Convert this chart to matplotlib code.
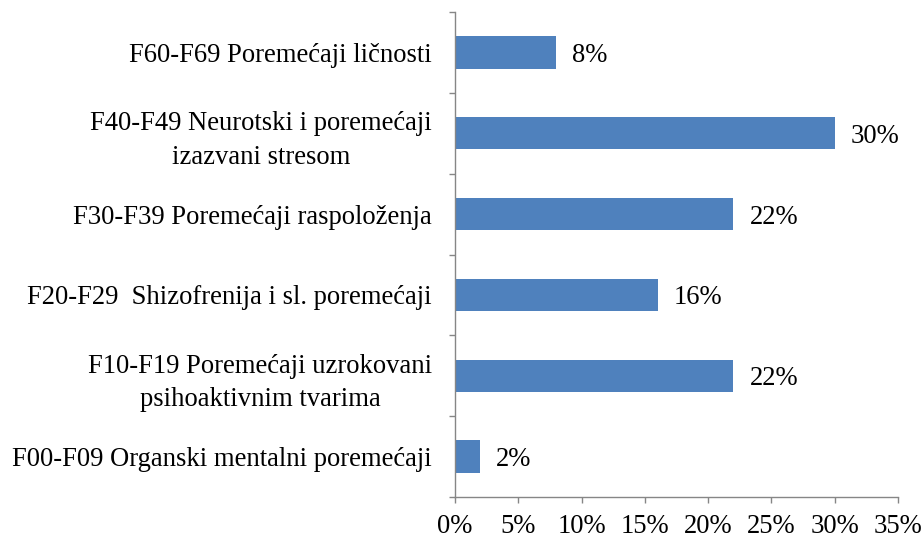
import numpy as np
import matplotlib
matplotlib.use("Agg")
import matplotlib.pyplot as plt
from matplotlib.ticker import FixedLocator, PercentFormatter

categories = [
    "F00-F09 Organski mentalni poremećaji",
    "F10-F19 Poremećaji uzrokovani\npsihoaktivnim tvarima",
    "F20-F29  Shizofrenija i sl. poremećaji",
    "F30-F39 Poremećaji raspoloženja",
    "F40-F49 Neurotski i poremećaji\nizazvani stresom",
    "F60-F69 Poremećaji ličnosti",
]
values = [2, 22, 16, 22, 30, 8]
x_ticks = [0, 5, 10, 15, 20, 25, 30, 35]

plt.rcParams["font.family"] = ["Liberation Serif", "DejaVu Serif"]
FS = 19.2
AXIS_GREY = "#868686"

fig = plt.figure(figsize=(9.24, 5.39), dpi=100)
ax = fig.add_axes([0.4924, 0.0779, 0.4795, 0.8998])

y = np.arange(len(categories))
ax.barh(y, values, height=0.4, color="#4F81BD")

for yi, v in zip(y, values):
    ax.annotate(f"{v}%", (v, yi), xytext=(11.5, 0), textcoords="offset points",
                va="center_baseline", ha="left", fontsize=FS)

ax.set_xlim(0, 35)
ax.set_ylim(-0.5, len(categories) - 0.5)
ax.set_xticks(x_ticks)
ax.xaxis.set_major_formatter(PercentFormatter(decimals=0))
ax.set_yticks(y)
ax.set_yticklabels(categories, fontsize=FS)
for lbl in ax.get_yticklabels():
    lbl.set_multialignment("center")
    lbl.set_linespacing(1.45)
ax.yaxis.set_minor_locator(FixedLocator(np.arange(-0.5, len(categories), 1.0)))

ax.tick_params(axis="y", which="major", length=0, pad=16.5)
ax.tick_params(axis="y", which="minor", length=4, width=1, color=AXIS_GREY, direction="out")
ax.tick_params(axis="x", length=4, width=1, color=AXIS_GREY, direction="out",
               labelsize=FS, pad=8)

for side in ("top", "right"):
    ax.spines[side].set_visible(False)
for side in ("left", "bottom"):
    ax.spines[side].set_color(AXIS_GREY)
    ax.spines[side].set_linewidth(1)

fig.savefig("out.png", dpi=100)
